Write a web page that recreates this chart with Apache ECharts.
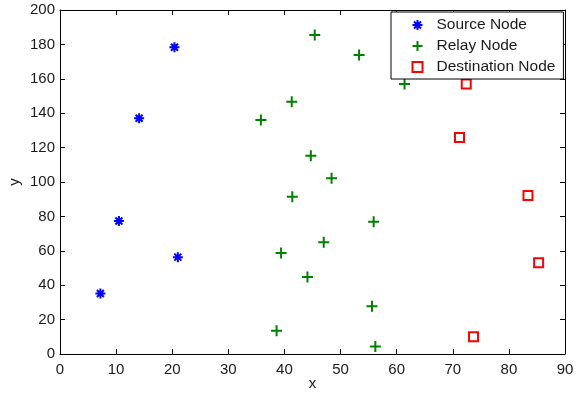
<!DOCTYPE html>
<html>
<head>
<meta charset="utf-8">
<script src="https://cdn.jsdelivr.net/npm/echarts@6/dist/echarts.min.js"></script>
<style>
  html, body { margin: 0; padding: 0; background: #fff; }
  #chart { width: 585px; height: 395px; }
</style>
</head>
<body>
<div id="chart"></div>
<script>
// Node positions [x, y]
const sourceNodes = [
  [7.2, 35.2], [10.5, 77.3], [14.1, 137.1], [20.4, 178.3], [21.0, 56.3]
];
const relayNodes = [
  [38.6, 13.5], [39.4, 58.7], [41.4, 91.4], [35.8, 136.1], [41.3, 146.6],
  [45.4, 185.5], [53.3, 173.9], [61.4, 157.0], [44.7, 115.2], [48.4, 102.2],
  [55.9, 76.9], [47.0, 65.0], [44.1, 44.7], [55.6, 27.7], [56.2, 4.4]
];
const destinationNodes = [
  [72.4, 157.0], [71.2, 125.8], [83.4, 92.1], [85.3, 53.0], [73.7, 10.0]
];
const seriesNames = ['Source Node', 'Relay Node', 'Destination Node'];
const xTicks = { min: 0, max: 90, interval: 10 };
const yTicks = { min: 0, max: 200, interval: 20 };

const FONT = 'Liberation Sans, Arial, Helvetica, sans-serif';
const TEXT = '#1a1a1a';

const asteriskPath = 'path://M5,0 L5,10 M0,5 L10,5 M1.5,1.5 L8.5,8.5 M1.5,8.5 L8.5,1.5';
const plusPath = 'path://M5,0 L5,10 M0,5 L10,5';

const chart = echarts.init(document.getElementById('chart'), null, { renderer: 'canvas' });

const baseAxis = {
  axisLine: { show: true, onZero: false, lineStyle: { color: '#000', width: 1 } },
  axisTick: { show: true, inside: true, length: 5, lineStyle: { color: '#000', width: 1 } },
  splitLine: { show: false }
};

chart.setOption({
  animation: false,
  backgroundColor: '#fff',
  grid: { left: 60, right: 20, top: 10, bottom: 41, containLabel: false, outerBoundsMode: 'none' },
  xAxis: [
    Object.assign({}, baseAxis, {
      type: 'value', position: 'bottom',
      min: xTicks.min, max: xTicks.max, interval: xTicks.interval,
      name: 'x', nameLocation: 'middle', nameGap: 22, nameMoveOverlap: false,
      nameTextStyle: { fontFamily: FONT, fontSize: 15, color: TEXT },
      axisLabel: { fontFamily: FONT, fontSize: 15, color: TEXT, margin: 8 }
    }),
    Object.assign({}, baseAxis, {
      type: 'value', position: 'top',
      min: xTicks.min, max: xTicks.max, interval: xTicks.interval,
      axisLabel: { show: false }
    })
  ],
  yAxis: [
    Object.assign({}, baseAxis, {
      type: 'value', position: 'left',
      min: yTicks.min, max: yTicks.max, interval: yTicks.interval,
      name: 'y', nameLocation: 'middle', nameGap: 38, nameMoveOverlap: false,
      nameTextStyle: { fontFamily: FONT, fontSize: 15, color: TEXT },
      axisLabel: { fontFamily: FONT, fontSize: 15, color: TEXT, margin: 5 }
    }),
    Object.assign({}, baseAxis, {
      type: 'value', position: 'right',
      min: yTicks.min, max: yTicks.max, interval: yTicks.interval,
      axisLabel: { show: false }
    })
  ],
  legend: {
    data: seriesNames,
    orient: 'vertical',
    left: 391, top: 12,
    padding: [5, 8, 4, 19],
    itemWidth: 10, itemHeight: 10, itemGap: 5,
    backgroundColor: '#fff',
    borderColor: '#000', borderWidth: 1, borderRadius: 0,
    textStyle: { fontFamily: FONT, fontSize: 15.5, color: TEXT, lineHeight: 16, padding: [0, 0, 0, 9] },
    selectedMode: false
  },
  series: [
    {
      name: seriesNames[0], type: 'scatter', data: sourceNodes,
      symbol: asteriskPath, symbolSize: 10,
      itemStyle: { color: 'none', borderColor: '#0000ff', borderWidth: 2, opacity: 1 }
    },
    {
      name: seriesNames[1], type: 'scatter', data: relayNodes,
      symbol: plusPath, symbolSize: 11,
      itemStyle: { color: 'none', borderColor: '#008000', borderWidth: 2, opacity: 1 }
    },
    {
      name: seriesNames[2], type: 'scatter', data: destinationNodes,
      symbol: 'rect', symbolSize: 9,
      itemStyle: { color: '#fff', borderColor: '#ff0000', borderWidth: 2, opacity: 1 }
    }
  ]
});
</script>
</body>
</html>
